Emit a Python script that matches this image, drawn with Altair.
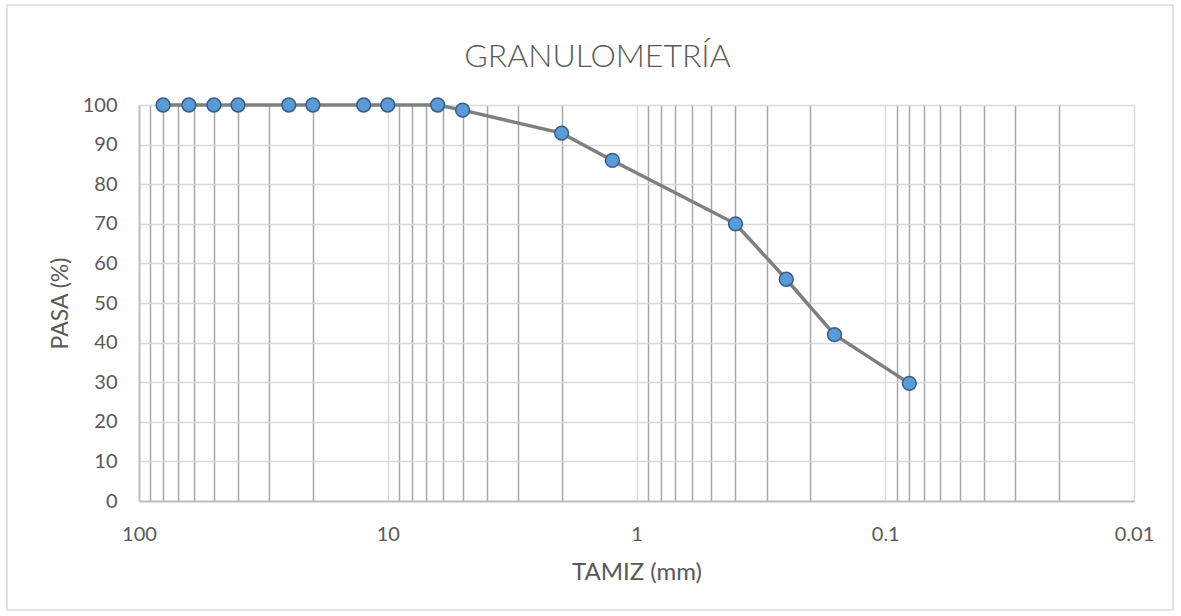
import altair as alt
import pandas as pd

# Data
tamiz_mm = [80, 63, 50, 40, 25, 20, 12.5, 10, 6.3, 5, 2, 1.25, 0.4, 0.25, 0.16, 0.08]
pasa_pct = [100, 100, 100, 100, 100, 100, 100, 100, 100, 98.7, 92.9, 86.0, 70.0, 56.0, 42.0, 29.7]

major_ticks = [100, 10, 1, 0.1, 0.01]
minor_multipliers = [2, 3, 4, 5, 6, 7, 8, 9]
y_ticks = [0, 10, 20, 30, 40, 50, 60, 70, 80, 90, 100]

grid_values = list(major_ticks) + [d * k for d in major_ticks[1:] for k in minor_multipliers]

df = pd.DataFrame({"tamiz": tamiz_mm, "pasa": pasa_pct})

FONT = "Lato"
TXT = "#595959"
IS_MAJOR = "indexof([100,10,1,0.1,0.01], datum.value) >= 0"

x_enc = alt.X(
    "tamiz:Q",
    scale=alt.Scale(type="log", domain=[0.01, 100], reverse=True, nice=False),
    axis=alt.Axis(
        values=grid_values,
        labelExpr=IS_MAJOR + " ? '' + datum.value : ''",
        gridColor={"condition": {"test": IS_MAJOR, "value": "#d9d9d9"}, "value": "#a6a6a6"},
        gridWidth=1.5,
        ticks=False,
        domainColor="#bfbfbf",
        domainWidth=2,
        labelFont=FONT,
        labelFontSize=20,
        labelColor=TXT,
        labelPadding=23,
        labelFlush=False,
        labelOverlap=False,
        title="TAMIZ (mm)",
        titleFont=FONT,
        titleFontSize=24,
        titleFontWeight="normal",
        titleColor=TXT,
        titlePadding=16,
    ),
)
y_enc = alt.Y(
    "pasa:Q",
    scale=alt.Scale(domain=[0, 100], nice=False),
    axis=alt.Axis(
        values=y_ticks,
        tickCount=11,
        gridColor="#d9d9d9",
        gridWidth=1.5,
        ticks=False,
        domainColor="#bfbfbf",
        domainWidth=2,
        labelFont=FONT,
        labelFontSize=20,
        labelColor=TXT,
        labelPadding=22,
        labelOverlap=False,
        labelFlush=False,
        title="PASA (%)",
        titleFont=FONT,
        titleFontSize=23,
        titleFontWeight="normal",
        titleColor=TXT,
        titlePadding=10,
    ),
)

line = alt.Chart(df).mark_line(color="#7f7f7f", strokeWidth=3.5).encode(x=x_enc, y=y_enc)
points = alt.Chart(df).mark_point(
    filled=True, fill="#5b9bd5", stroke="#385d8a", strokeWidth=1.5, size=190, opacity=1, shape="circle"
).encode(x=x_enc, y=y_enc)

frame = alt.Chart(pd.DataFrame({"a": [0]})).mark_rect(
    fill="transparent", stroke="#d9d9d9", strokeWidth=1.5
).encode(
    x=alt.value(-132), x2=alt.value(1034), y=alt.value(-100), y2=alt.value(505)
)

chart = alt.layer(frame, line, points).properties(
    width=995,
    height=396,
    autosize=alt.AutoSizeParams(type="none"),
    padding={"left": 139, "top": 105, "right": 47, "bottom": 115},
    background="white",
    title=alt.TitleParams(
        "GRANULOMETRÍA",
        font=FONT,
        fontSize=32,
        fontWeight=300,
        color=TXT,
        anchor="middle",
        offset=0,
        dy=70,
        dx=-39,
    ),
).configure_view(stroke="transparent")

chart.save("out.html", embed_options={"renderer": "svg", "actions": False})
